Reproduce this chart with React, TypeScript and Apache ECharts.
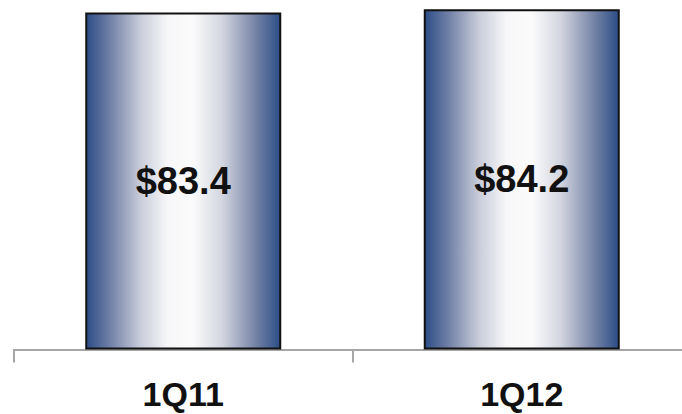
import React, { useEffect, useRef } from "react";
import * as echarts from "echarts";

const categories = ["1Q11", "1Q12"];
const values = [83.4, 84.2];
const valueLabels = ["$83.4", "$84.2"];

export default function App() {
  const ref = useRef<HTMLDivElement>(null);
  useEffect(() => {
    if (!ref.current) return;
    const chart = echarts.init(ref.current, null, { renderer: "svg" });
    const grad = new echarts.graphic.LinearGradient(0, 0, 1, 0, [
      { offset: 0, color: "#2c4d86" },
      { offset: 0.12, color: "#6f7fa6" },
      { offset: 0.28, color: "#c9cdda" },
      { offset: 0.42, color: "#f7f7f9" },
      { offset: 0.55, color: "#fbfbfb" },
      { offset: 0.7, color: "#d3d6e0" },
      { offset: 0.86, color: "#7c89aa" },
      { offset: 1, color: "#2c4d86" },
    ]);
    chart.setOption({
      animation: false,
      backgroundColor: "#ffffff",
      grid: { left: 14, right: 9, top: 2, bottom: 64.5, containLabel: false },
      xAxis: {
        type: "category",
        data: categories,
        boundaryGap: true,
        axisLine: { show: true, lineStyle: { color: "#a6a6a6", width: 2 } },
        axisTick: { show: true, length: 13, lineStyle: { color: "#a6a6a6", width: 2 } },
        axisLabel: {
          color: "#111111",
          fontFamily: "Liberation Sans, Arial, sans-serif",
          fontWeight: "bold",
          fontSize: 34,
          lineHeight: 34,
          margin: 27,
        },
      },
      yAxis: {
        type: "value",
        min: 0,
        max: 86,
        show: false,
        splitLine: { show: false },
      },
      series: [
        {
          type: "bar",
          data: values,
          barWidth: 196,
          itemStyle: { color: grad, borderColor: "#111111", borderWidth: 2 },
          label: {
            show: true,
            position: "inside",
            formatter: (p: any) => valueLabels[p.dataIndex],
            color: "#111111",
            fontFamily: "Liberation Sans, Arial, sans-serif",
            fontWeight: "bold",
            fontSize: 38,
          },
        },
      ],
    });
    return () => chart.dispose();
  }, []);
  return (
    <div style={{ width: 682, height: 414, position: "absolute", left: 0, top: 0, overflow: "hidden" }}>
      <div ref={ref} style={{ width: 700, height: 414 }} />
    </div>
  );
}
